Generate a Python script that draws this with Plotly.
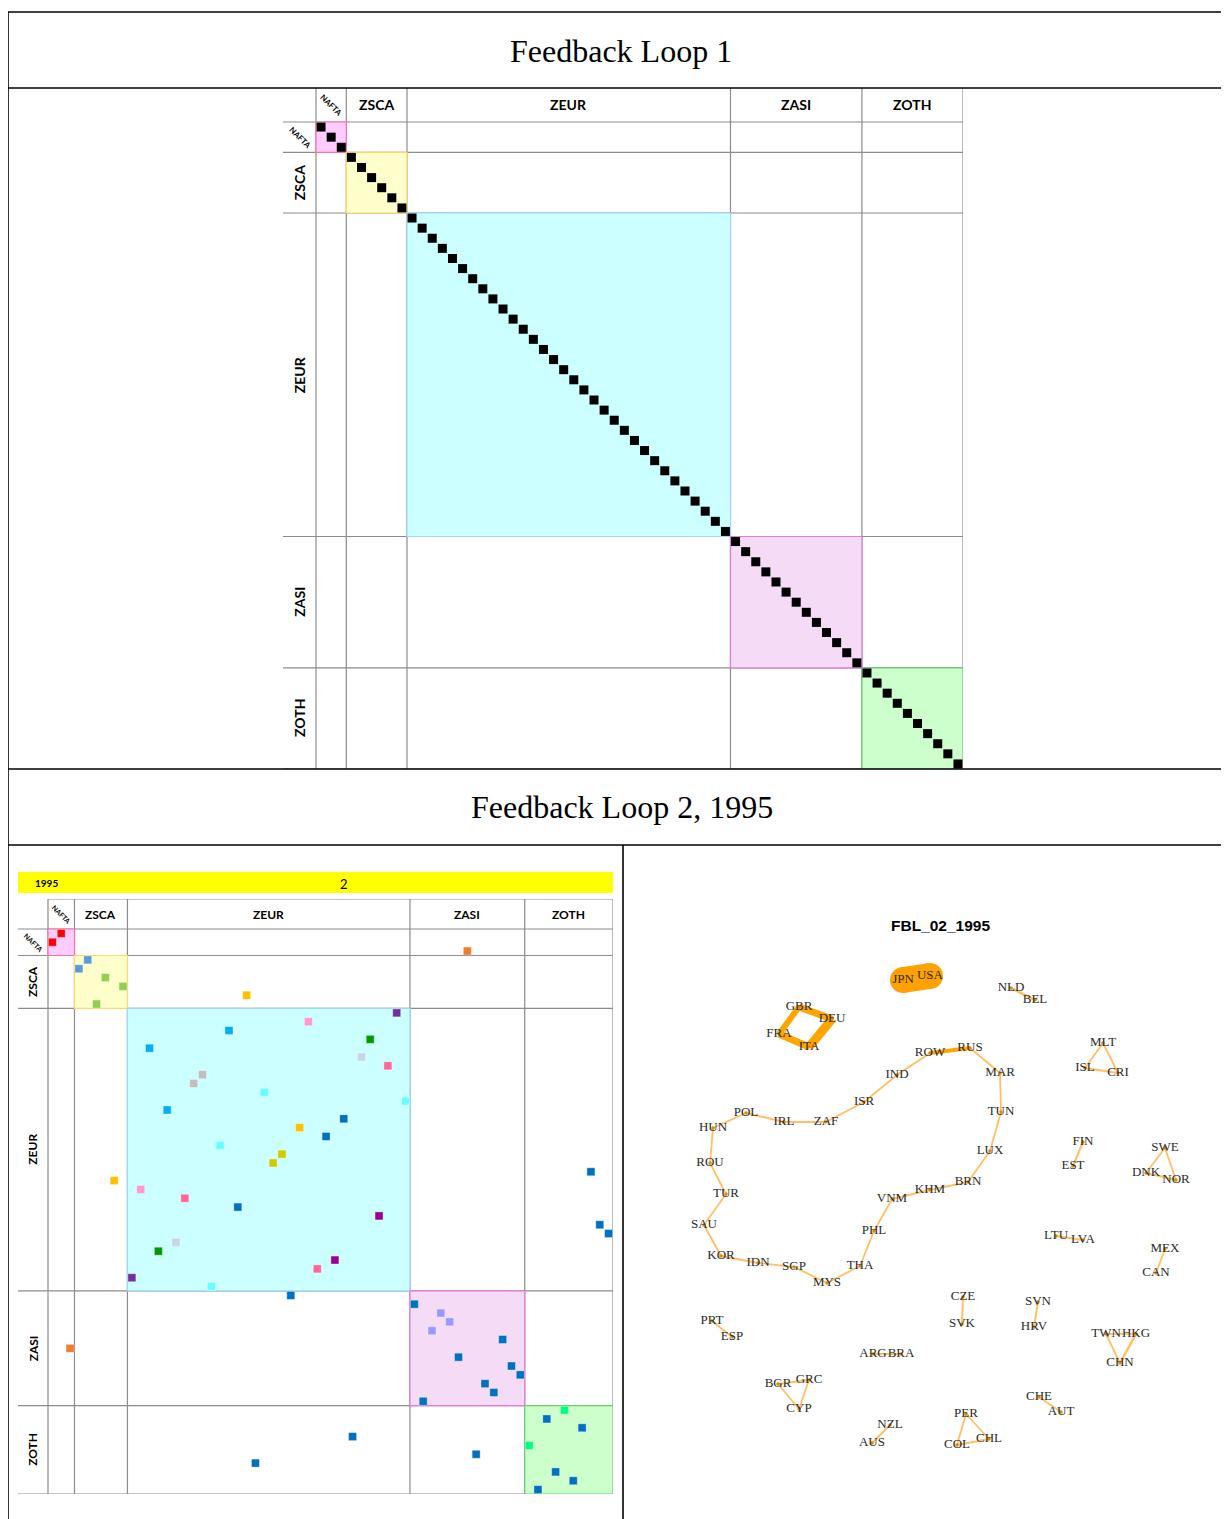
import plotly.graph_objects as go

W, H = 1229, 1519
OFF = 8  # the page body margin that the html page adds around the figure

# ---------------- data ----------------
group_names = ["NAFTA", "ZSCA", "ZEUR", "ZASI", "ZOTH"]
group_sizes = [3, 6, 32, 13, 10]
group_fill = ["#FFCCFF", "#FFFFCC", "#CCFFFF", "#F5DBF5", "#CCFFCC"]
group_edge = ["#FF6FA8", "#FFD966", "#9FD8F8", "#E27AE2", "#6CCB6C"]

# Feedback loop 2, 1995: each cycle lists country indices; row i -> column next(i)
cycles_1995 = [
    [0, 1], [2, 47], [3, 4], [5, 6, 8], [7, 22, 28], [9, 39], [10, 29],
    [11, 20, 13], [12, 36], [14, 35], [15, 38, 30], [16, 17], [18, 24, 19, 40],
    [21, 33, 62, 59, 48, 46, 51, 49, 52, 50, 53, 42, 41, 27, 61, 57, 34, 63,
     55, 56, 60, 23, 31],
    [25, 26], [32, 37], [43, 44, 45], [54, 58],
]
cycle_colors = [
    "#FF0000", "#ED7D31", "#5B9BD5", "#92D050", "#FFC000", "#7030A0", "#FF99CC",
    "#00B0F0", "#009900", "#C5D5EA", "#FF6699", "#BFBFBF", "#66FFFF",
    "#0070C0", "#CCCC00", "#990099", "#9999FF", "#00FF80",
]

# network FBL_02_1995 (layout positions)
node_names = ["JPN", "USA", "NLD", "BEL", "GBR", "DEU", "FRA", "ITA", "ROW", "RUS",
              "MLT", "ISL", "CRI", "IND", "MAR", "ISR", "TUN", "POL", "IRL", "ZAF",
              "HUN", "FIN", "EST", "SWE", "DNK", "NOR", "LUX", "ROU", "BRN", "KHM",
              "VNM", "TUR", "SAU", "PHL", "LTU", "LVA", "MEX", "CAN", "KOR", "IDN",
              "SGP", "THA", "MYS", "CZE", "SVK", "SVN", "HRV", "PRT", "ESP", "TWN",
              "HKG", "CHN", "ARG", "BRA", "BGR", "GRC", "CYP", "CHE", "AUT", "PER",
              "NZL", "CHL", "AUS", "COL"]
node_x = [903, 930, 1011, 1035, 799, 832, 779, 809, 930, 970,
          1103, 1085, 1118, 897, 1000, 864, 1001, 746, 784, 826,
          713, 1083, 1073, 1165, 1146, 1176, 990, 710, 968, 930,
          892, 726, 704, 874, 1056, 1083, 1165, 1156, 721, 758,
          794, 860, 827, 963, 962, 1038, 1034, 712, 732, 1106,
          1136, 1120, 873, 901, 778, 809, 799, 1039, 1061, 966,
          890, 989, 872, 957]
node_y = [980, 976, 988, 1000, 1007, 1019, 1034, 1047, 1053, 1048,
          1043, 1068, 1073, 1075, 1073, 1102, 1112, 1113, 1122, 1122,
          1128, 1142, 1166, 1148, 1173, 1180, 1151, 1163, 1182, 1190,
          1199, 1194, 1225, 1231, 1236, 1240, 1249, 1273, 1256, 1263,
          1267, 1266, 1283, 1297, 1324, 1302, 1327, 1321, 1337, 1334,
          1334, 1363, 1354, 1354, 1384, 1380, 1409, 1397, 1412, 1414,
          1425, 1439, 1443, 1445]
edge_src = ["JPN", "NLD", "GBR", "DEU", "ITA", "FRA",
            "HUN", "POL", "IRL", "ZAF", "ISR", "IND", "ROW", "RUS", "MAR", "TUN",
            "LUX", "BRN", "KHM", "VNM", "PHL", "THA", "MYS", "SGP", "IDN", "KOR",
            "SAU", "TUR", "ROU",
            "MLT", "ISL", "CRI", "FIN", "SWE", "DNK", "NOR", "LTU", "MEX", "CZE",
            "SVN", "TWN", "HKG", "CHN", "PRT", "ARG", "BGR", "GRC", "CYP", "CHE",
            "NZL", "PER", "CHL", "COL"]
edge_dst = ["USA", "BEL", "DEU", "ITA", "FRA", "GBR",
            "POL", "IRL", "ZAF", "ISR", "IND", "ROW", "RUS", "MAR", "TUN", "LUX",
            "BRN", "KHM", "VNM", "PHL", "THA", "MYS", "SGP", "IDN", "KOR", "SAU",
            "TUR", "ROU", "HUN",
            "ISL", "CRI", "MLT", "EST", "DNK", "NOR", "SWE", "LVA", "CAN", "SVK",
            "HRV", "HKG", "CHN", "TWN", "ESP", "BRA", "GRC", "CYP", "BGR", "AUT",
            "AUS", "CHL", "COL", "PER"]
edge_w = [26, 2.5, 7, 9, 7, 6,
          1.8, 1.8, 1.8, 1.8, 1.8, 2, 4, 1.8, 1.8, 1.8,
          1.8, 1.8, 1.8, 1.8, 1.8, 1.8, 1.8, 1.8, 1.8, 1.8,
          1.8, 1.8, 1.8,
          1.8, 1.8, 1.8, 2, 1.8, 1.8, 1.8, 1.8, 1.8, 2,
          2, 1.8, 2.5, 1.8, 2, 2, 1.8, 1.8, 1.8, 2,
          2, 1.8, 1.8, 1.8]

# ---------------- geometry ----------------
N = sum(group_sizes)
bounds = [0]
for s in group_sizes:
    bounds.append(bounds[-1] + s)

FW, FH = W - OFF, H - OFF


def fx(px):
    return (px - OFF) / FW


def fy(py):
    return 1 - (py - OFF) / FH


c1 = 647 / N          # top matrix cell (px)
c2 = 565 / N          # bottom matrix cell (px)
lbl1, hdr1 = 33 / c1, 34 / c1
lbl2, hdr2 = 30 / c2, 30 / c2

fig = go.Figure()


def noax(**kw):
    d = dict(visible=False, showgrid=False, zeroline=False, fixedrange=True)
    d.update(kw)
    return d


fig.update_layout(
    width=FW, height=FH, margin=dict(l=0, r=0, t=0, b=0),
    paper_bgcolor="white", plot_bgcolor="rgba(0,0,0,0)",
    showlegend=False, hovermode=False,
    xaxis=noax(domain=[0, 1], range=[OFF, W], anchor="y"),
    yaxis=noax(domain=[0, 1], range=[H, OFF], anchor="x"),
    xaxis2=noax(domain=[fx(283), fx(963)], range=[-lbl1, N], anchor="y2"),
    yaxis2=noax(domain=[fy(769), fy(88)], range=[N, -hdr1], anchor="x2"),
    xaxis3=noax(domain=[fx(18), fx(613)], range=[-lbl2, N], anchor="y3"),
    yaxis3=noax(domain=[fy(1494), fy(899)], range=[N, -hdr2], anchor="x3"),
    xaxis4=noax(domain=[fx(624), 1], range=[624, W], anchor="y4"),
    yaxis4=noax(domain=[0, fy(846)], range=[H, 846], anchor="x4"),
)

shapes = []
annots = []

# page structure: table lines, yellow bar
for (x0, y0, x1, y1) in [(8, 12, W, 12), (8, 88, W, 88), (8, 769, W, 769),
                         (8, 845, W, 845), (8, 12, 8, H), (623, 845, 623, H)]:
    shapes.append(dict(type="line", xref="x", yref="y", x0=x0, y0=y0, x1=x1, y1=y1,
                       line=dict(color="black", width=1.6), layer="above"))
shapes.append(dict(type="rect", xref="x", yref="y", x0=18, y0=872, x1=613, y1=893,
                   fillcolor="#FFFF00", line=dict(width=0), layer="below"))
annots.append(dict(xref="x", yref="y", x=621, y=51, text="Feedback Loop 1", showarrow=False,
                   font=dict(family="Liberation Serif", size=32, color="black")))
annots.append(dict(xref="x", yref="y", x=622, y=807, text="Feedback Loop 2, 1995", showarrow=False,
                   font=dict(family="Liberation Serif", size=32, color="black")))
annots.append(dict(xref="x", yref="y", x=46, y=883, text="<b>1995</b>", showarrow=False,
                   font=dict(family="Lato", size=10, color="black")))
annots.append(dict(xref="x", yref="y", x=344, y=884, text="2", showarrow=False,
                   font=dict(family="Lato", size=13, color="black")))


def matrix_frame(xr, yr, lbl, hdr, fs, nfs, top_line):
    # grid
    for b in bounds:
        shapes.append(dict(type="line", xref=xr, yref=yr, x0=b, x1=b, y0=-hdr, y1=N,
                           line=dict(color="#8C8C8C", width=1.2), layer="below"))
        shapes.append(dict(type="line", xref=xr, yref=yr, x0=-lbl, x1=N, y0=b, y1=b,
                           line=dict(color="#8C8C8C", width=1.2), layer="below"))
    if top_line:
        shapes.append(dict(type="line", xref=xr, yref=yr, x0=0, x1=N, y0=-hdr, y1=-hdr,
                           line=dict(color="#8C8C8C", width=1.2), layer="below"))
    # group blocks
    for g, s in enumerate(group_sizes):
        a, b = bounds[g], bounds[g + 1]
        shapes.append(dict(type="rect", xref=xr, yref=yr, x0=a, x1=b, y0=a, y1=b,
                           fillcolor=group_fill[g], line=dict(color=group_edge[g], width=1.2),
                           layer="below"))
        mid = (a + b) / 2
        if group_names[g] == "NAFTA":
            annots.append(dict(xref=xr, yref=yr, x=mid, y=-hdr / 2, text="<b>NAFTA</b>",
                               textangle=45, showarrow=False,
                               font=dict(family="Lato", size=nfs, color="black")))
            annots.append(dict(xref=xr, yref=yr, x=-lbl / 2, y=mid, text="<b>NAFTA</b>",
                               textangle=45, showarrow=False,
                               font=dict(family="Lato", size=nfs, color="black")))
        else:
            annots.append(dict(xref=xr, yref=yr, x=mid, y=-hdr / 2,
                               text="<b>%s</b>" % group_names[g], showarrow=False,
                               font=dict(family="Lato", size=fs, color="black")))
            annots.append(dict(xref=xr, yref=yr, x=-lbl / 2, y=mid,
                               text="<b>%s</b>" % group_names[g], textangle=-90,
                               showarrow=False,
                               font=dict(family="Lato", size=fs, color="black")))


matrix_frame("x2", "y2", lbl1, hdr1, 14, 8, False)
matrix_frame("x3", "y3", lbl2, hdr2, 12, 7, True)

# FBL1: diagonal
diag = [i + 0.5 for i in range(N)]
fig.add_trace(go.Scatter(x=diag, y=diag, xaxis="x2", yaxis="y2", mode="markers",
                         marker=dict(symbol="square", size=9, color="black", line=dict(width=0)),
                         cliponaxis=False))

# FBL2 1995 matrix
mx, my, mc = [], [], []
for cyc, col in zip(cycles_1995, cycle_colors):
    for k, src in enumerate(cyc):
        dst = cyc[(k + 1) % len(cyc)]
        mx.append(dst + 0.5)
        my.append(src + 0.5)
        mc.append(col)
fig.add_trace(go.Scatter(x=mx, y=my, xaxis="x3", yaxis="y3", mode="markers",
                         marker=dict(symbol="square", size=8, color=mc,
                                     line=dict(width=0.6, color="rgba(255,255,255,0.6)")),
                         cliponaxis=False))

# network
pos = {n: (x, y) for n, x, y in zip(node_names, node_x, node_y)}
for a, b, w in zip(edge_src, edge_dst, edge_w):
    (xa, ya), (xb, yb) = pos[a], pos[b]
    if w >= 12:
        fig.add_trace(go.Scatter(x=[xa, xb], y=[ya, yb], xaxis="x4", yaxis="y4",
                                 mode="lines+markers", line=dict(color="#FFA200", width=w),
                                 marker=dict(size=w, color="#FFA200", symbol="circle"),
                                 cliponaxis=False))
    else:
        col = "#FFA500" if w >= 4 else "rgba(255,160,30,0.68)"
        fig.add_trace(go.Scatter(x=[xa, xb], y=[ya, yb], xaxis="x4", yaxis="y4",
                                 mode="lines", line=dict(color=col, width=w),
                                 cliponaxis=False))
fig.add_trace(go.Scatter(x=node_x, y=node_y, xaxis="x4", yaxis="y4", mode="markers+text",
                         text=node_names, textposition="middle center",
                         marker=dict(size=3.5, color="#E08A00"),
                         textfont=dict(family="Liberation Serif", size=13, color="#2a2a2a"),
                         cliponaxis=False))
annots.append(dict(xref="x4", yref="y4", x=940, y=925, text="<b>FBL_02_1995</b>",
                   showarrow=False, font=dict(family="Liberation Sans", size=15.5, color="black")))

fig.update_layout(shapes=shapes, annotations=annots)
fig.write_html("out.html")
